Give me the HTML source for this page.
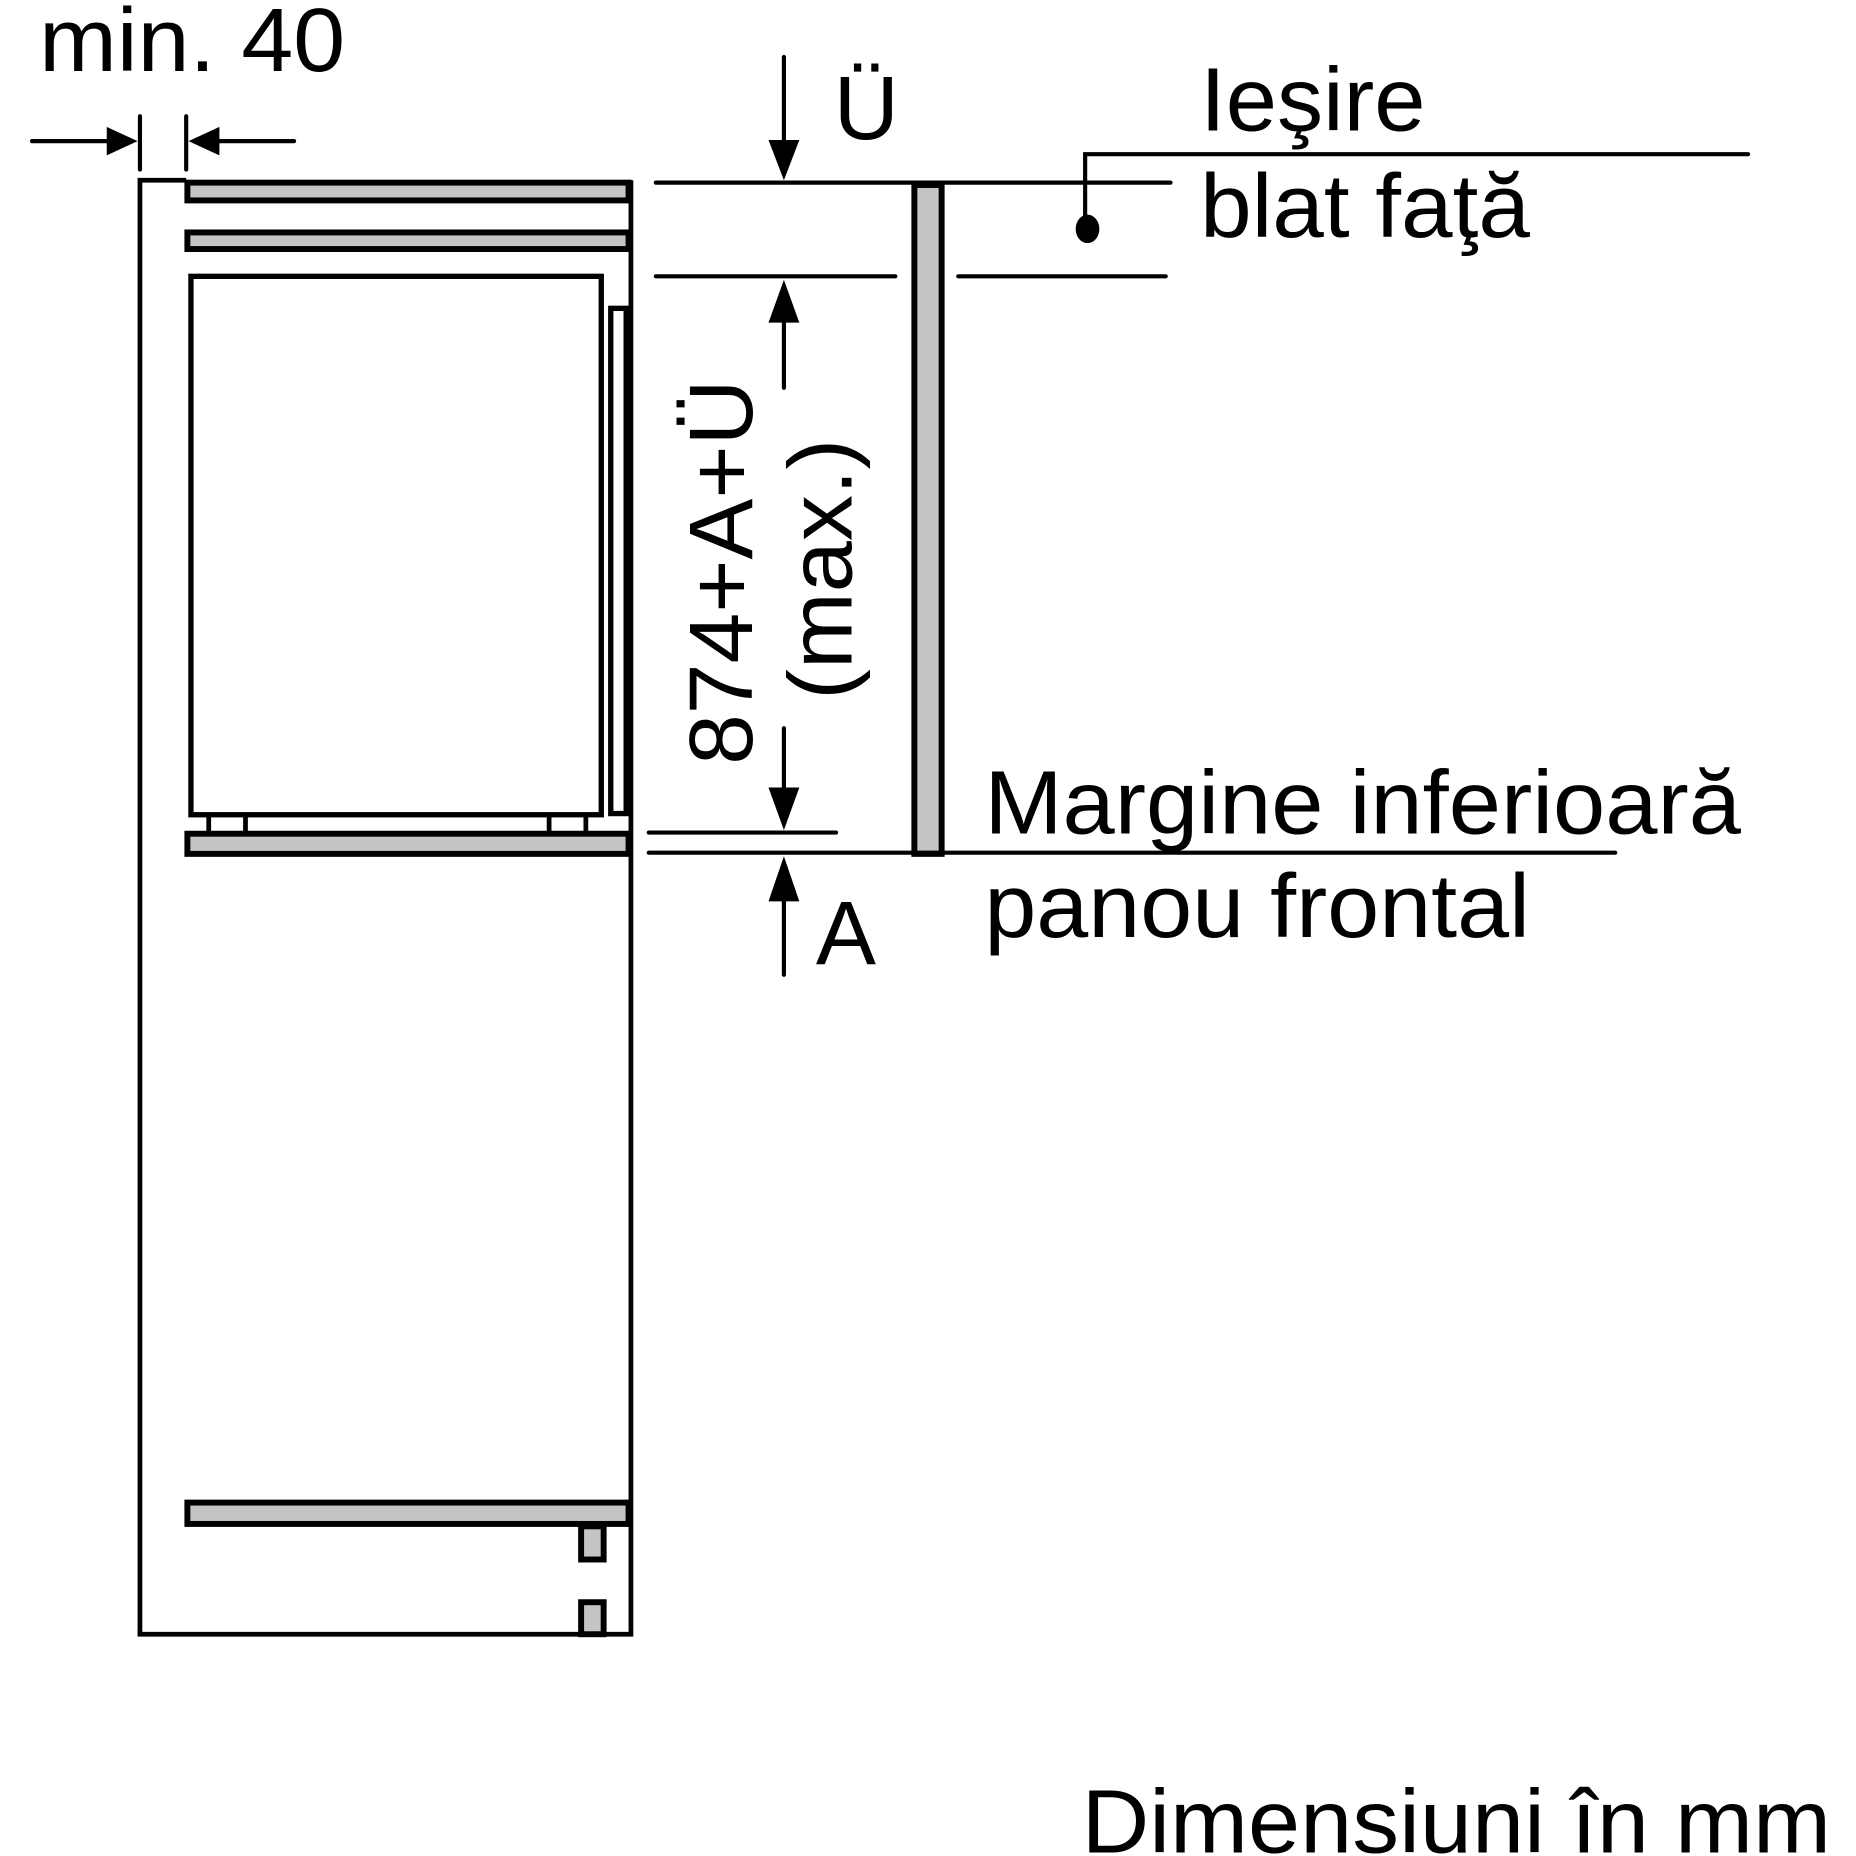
<!DOCTYPE html>
<html><head><meta charset="utf-8"><style>html,body{margin:0;padding:0;background:#fff}svg{display:block}</style></head>
<body>
<svg width="1856" height="1856" viewBox="0 0 1565 1565" xmlns="http://www.w3.org/2000/svg" font-family="Liberation Sans, Arial, sans-serif">
<rect width="1565" height="1565" fill="#fff"/>
<g stroke="#000" stroke-width="4" fill="none">
<path d="M157 152 H118 V1378 H532 V152"/>
</g>
<g stroke="#000" stroke-width="5" fill="#c4c4c4">
<rect x="158" y="154" width="372" height="15"/>
<rect x="158" y="196" width="372" height="14"/>
<rect x="158" y="703" width="372" height="17"/>
<rect x="158" y="1267" width="372" height="18"/>
<rect x="490" y="1287" width="19" height="28"/>
<rect x="490" y="1351" width="19" height="27"/>
<rect x="771" y="156" width="23" height="564"/>
</g>
<g stroke="#000" stroke-width="4.5" fill="none">
<rect x="161" y="233" width="346" height="454"/>
<rect x="515" y="260" width="13" height="426"/>
</g>
<g stroke="#000" stroke-width="4" fill="none">
<path d="M176 687 V701 M207 687 V701 M463 687 V701 M494 687 V701"/>
</g>
<g stroke="#000" stroke-width="3.5" fill="none" stroke-linecap="round">
<path d="M27 119 H95 M118 98 V143 M157 98 V143 M248 119 H180"/>
<path d="M553 154 H987 M553 233 H755 M808 233 H983"/>
<path d="M661 48 V118 M661 272 V327 M661 614 V668 M547 702 H705 M547 719 H1362 M661 760 V822"/>
<path d="M915 190 V130 H1474"/>
</g>
<g fill="#000">
<path d="M116 119 L90 107 L90 131 Z"/>
<path d="M159 119 L185 107 L185 131 Z"/>
<path d="M661 152 L648 118 L674 118 Z"/>
<path d="M661 236 L648 272 L674 272 Z"/>
<path d="M661 700 L648 664 L674 664 Z"/>
<path d="M661 722 L648 760 L674 760 Z"/>
<ellipse cx="917" cy="193" rx="10" ry="12"/>
</g>
<g fill="#000" font-size="76">
<text x="33" y="60" textLength="258" lengthAdjust="spacingAndGlyphs">min. 40</text>
<text x="703" y="117">Ü</text>
<text x="688" y="813">A</text>
<text x="1012" y="110" textLength="190" lengthAdjust="spacingAndGlyphs">Ieşire</text>
<text x="1012" y="200" textLength="278" lengthAdjust="spacingAndGlyphs">blat faţă</text>
<text x="830" y="703" textLength="638" lengthAdjust="spacingAndGlyphs">Margine inferioară</text>
<text x="830" y="790" textLength="460" lengthAdjust="spacingAndGlyphs">panou frontal</text>
<text x="912" y="1562" textLength="632" lengthAdjust="spacingAndGlyphs">Dimensiuni în mm</text>
<text transform="translate(634,645) rotate(-90)" textLength="325" lengthAdjust="spacingAndGlyphs">874+A+Ü</text>
<text transform="translate(718,590) rotate(-90)" textLength="220" lengthAdjust="spacingAndGlyphs">(max.)</text>
</g>
</svg>
</body></html>
